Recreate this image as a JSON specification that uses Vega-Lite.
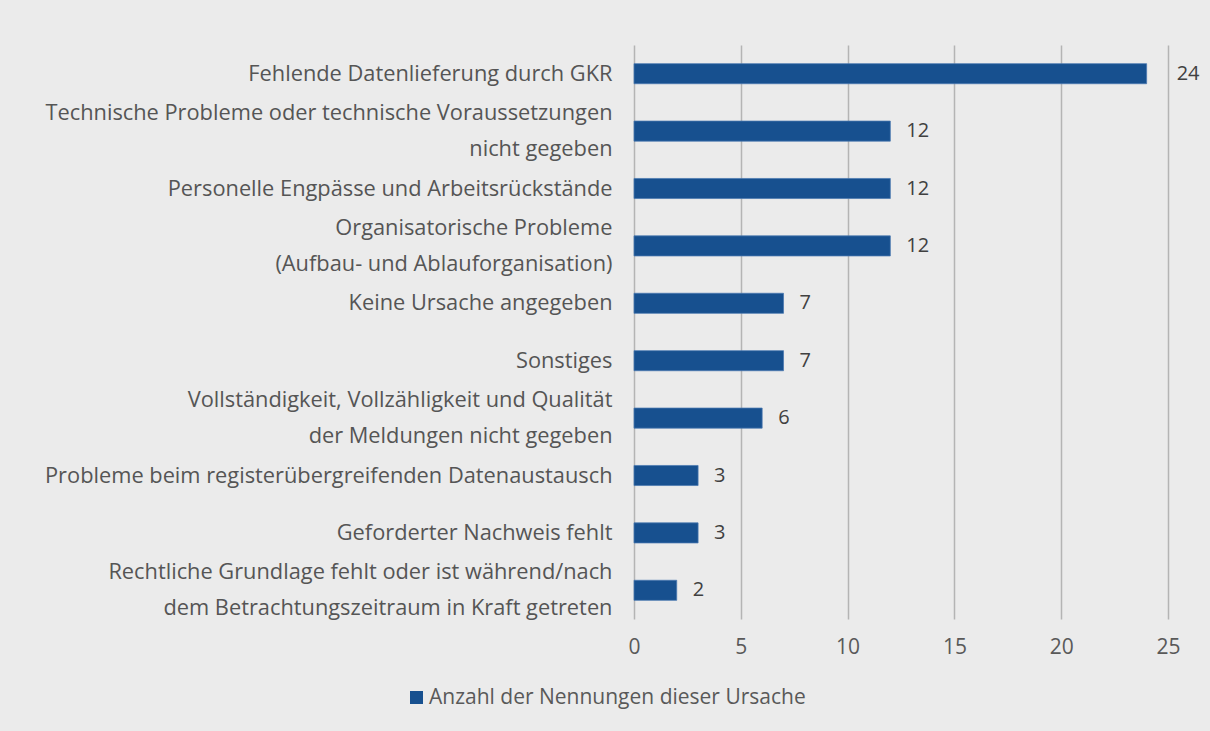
{
  "$schema": "https://vega.github.io/schema/vega-lite/v6.json",
  "width": 534,
  "height": 574,
  "autosize": {"type": "none"},
  "padding": {"left": 634, "top": 45, "right": 42, "bottom": 112},
  "background": "#ebebeb",
  "config": {
    "view": {"stroke": null},
    "font": "Open Sans"
  },
  "data": {
    "values": [
      {"ursache": "Fehlende Datenlieferung durch GKR", "anzahl": 24, "serie": "Anzahl der Nennungen dieser Ursache"},
      {"ursache": "Technische Probleme oder technische Voraussetzungen|nicht gegeben", "anzahl": 12, "serie": "Anzahl der Nennungen dieser Ursache"},
      {"ursache": "Personelle Engpässe und Arbeitsrückstände", "anzahl": 12, "serie": "Anzahl der Nennungen dieser Ursache"},
      {"ursache": "Organisatorische Probleme|(Aufbau- und Ablauforganisation)", "anzahl": 12, "serie": "Anzahl der Nennungen dieser Ursache"},
      {"ursache": "Keine Ursache angegeben", "anzahl": 7, "serie": "Anzahl der Nennungen dieser Ursache"},
      {"ursache": "Sonstiges", "anzahl": 7, "serie": "Anzahl der Nennungen dieser Ursache"},
      {"ursache": "Vollständigkeit, Vollzähligkeit und Qualität|der Meldungen nicht gegeben", "anzahl": 6, "serie": "Anzahl der Nennungen dieser Ursache"},
      {"ursache": "Probleme beim registerübergreifenden Datenaustausch", "anzahl": 3, "serie": "Anzahl der Nennungen dieser Ursache"},
      {"ursache": "Geforderter Nachweis fehlt", "anzahl": 3, "serie": "Anzahl der Nennungen dieser Ursache"},
      {"ursache": "Rechtliche Grundlage fehlt oder ist während/nach|dem Betrachtungszeitraum in Kraft getreten", "anzahl": 2, "serie": "Anzahl der Nennungen dieser Ursache"}
    ]
  },
  "encoding": {
    "y": {
      "field": "ursache",
      "type": "nominal",
      "sort": null,
      "scale": {"paddingInner": 0.65, "paddingOuter": 0.325},
      "axis": {
        "title": null,
        "domain": false,
        "ticks": false,
        "tickSize": 0,
        "labelPadding": 22,
        "labelFontSize": 21.8,
        "labelColor": "#555555",
        "labelLineHeight": 36,
        "labelLimit": 700,
        "labelOffset": {"expr": "indexof(datum.label, '|') >= 0 ? -18 : 0"},
        "labelExpr": "split(datum.label, '|')"
      }
    },
    "x": {
      "field": "anzahl",
      "type": "quantitative",
      "scale": {"domain": [0, 25]},
      "axis": {
        "title": null,
        "values": [0, 5, 10, 15, 20, 25],
        "domain": false,
        "ticks": false,
        "tickSize": 0,
        "labelFlush": false,
        "labelPadding": 17,
        "labelFontSize": 21,
        "labelColor": "#595959",
        "grid": true,
        "gridColor": "#b4b4b4",
        "gridWidth": 1.5
      }
    }
  },
  "layer": [
    {
      "mark": {"type": "bar", "stroke": "#4a78b0", "strokeWidth": 0.75},
      "encoding": {
        "color": {
          "field": "serie",
          "type": "nominal",
          "scale": {"range": ["#17508f"]},
          "legend": {
            "title": null,
            "orient": "none",
            "legendX": -228,
            "legendY": 642,
            "symbolType": "square",
            "symbolSize": 169,
            "symbolStrokeWidth": 0,
            "labelFontSize": 21,
            "labelColor": "#595959",
            "labelOffset": 2,
            "labelLimit": 600
          }
        }
      }
    },
    {
      "mark": {"type": "text", "align": "left", "baseline": "middle", "dx": {"expr": "datum.anzahl >= 24 ? 30 : 16"}, "fontSize": 20, "color": "#404040"},
      "encoding": {
        "text": {"field": "anzahl", "type": "quantitative"}
      }
    }
  ]
}
